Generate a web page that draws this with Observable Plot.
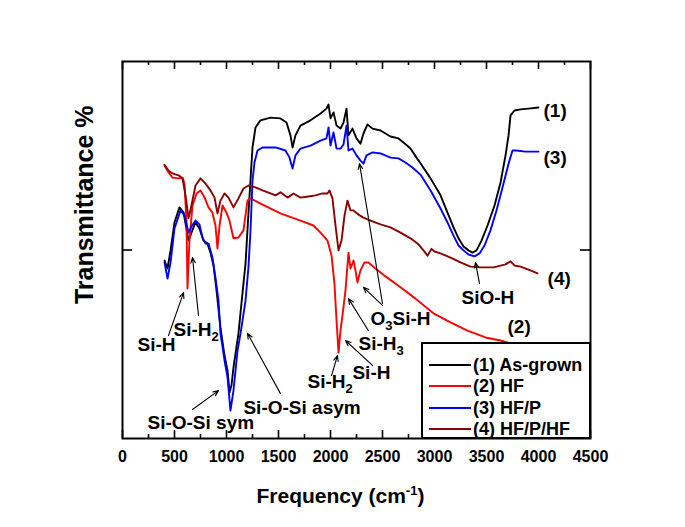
<!DOCTYPE html>
<html>
<head>
<meta charset="utf-8">
<script src="https://cdn.jsdelivr.net/npm/d3@7"></script>
<script src="https://cdn.jsdelivr.net/npm/@observablehq/plot@0.6"></script>
<style>
  html, body { margin: 0; padding: 0; background: white; overflow: hidden; }
  #wrap { position: relative; width: 685px; height: 527px; font-family: 'Liberation Sans', Arial, sans-serif; }
  #legend { position: absolute; left: 421px; top: 342px; width: 170px; height: 97px; box-sizing: border-box;
            border: 2px solid black; background: white; }
  .row { position: absolute; left: 0; height: 20px; }
  .sw { position: absolute; left: 6px; width: 42px; top: 9px; border-top: 2px solid; }
  .lb { position: absolute; left: 50px; top: 0; font-size: 18px; font-weight: bold; line-height: 20px; white-space: nowrap; }
</style>
</head>
<body>
<div id="wrap"></div>
<script>
// ---- data: [frequency (cm^-1), transmittance (arb. %)] ----
const asGrown = [[404,47.2],[433,45.1],[462,49.9],[500,57.3],[548,61.3],[587,60.0],[635,52.5],[663,54.6],[702,57.3],[740,55.7],[779,52.5],[817,51.7],[846,49.3],[875,45.9],[904,39.3],[942,29.4],[981,22.0],[1010,18.0],[1029,12.2],[1048,14.1],[1067,18.8],[1115,27.9],[1163,41.1],[1183,46.4],[1211,59.7],[1250,77.2],[1279,82.5],[1327,84.4],[1423,85.1],[1519,84.9],[1577,83.8],[1615,80.4],[1635,77.2],[1663,80.4],[1711,83.0],[1808,84.4],[1904,86.2],[1961,87.5],[1981,88.6],[2000,84.9],[2029,86.5],[2058,83.0],[2096,82.2],[2125,83.8],[2154,87.5],[2173,80.4],[2211,82.2],[2250,79.6],[2288,78.2],[2317,80.9],[2356,83.3],[2404,82.2],[2481,81.7],[2577,80.1],[2654,79.6],[2702,78.5],[2769,76.9],[2827,74.5],[2865,73.0],[2962,69.0],[3058,64.5],[3125,59.9],[3183,56.0],[3231,53.1],[3279,50.9],[3327,49.9],[3365,49.3],[3404,49.9],[3452,52.5],[3510,56.5],[3577,61.8],[3635,67.9],[3683,75.1],[3712,80.4],[3731,85.7],[3769,87.0],[3827,87.3],[3904,87.5],[4000,87.8]];
const hf = [[404,72.4],[442,70.6],[481,69.2],[538,69.0],[577,69.2],[596,67.6],[615,57.8],[625,39.8],[644,52.5],[673,61.8],[712,65.0],[750,65.8],[788,64.0],[827,61.3],[865,59.9],[894,56.5],[913,50.4],[933,56.5],[962,61.8],[1000,59.9],[1029,57.8],[1067,53.1],[1115,53.3],[1163,55.2],[1202,63.1],[1231,63.7],[1327,62.3],[1519,59.7],[1711,57.8],[1836,56.5],[1904,54.6],[1971,52.5],[2010,48.5],[2038,41.1],[2058,31.3],[2077,22.8],[2096,28.6],[2115,32.6],[2144,39.3],[2163,45.9],[2173,49.3],[2192,45.1],[2221,47.2],[2240,44.6],[2259,41.4],[2288,44.6],[2327,46.7],[2365,46.7],[2433,45.1],[2529,43.0],[2673,40.1],[2817,37.1],[2990,33.2],[3154,30.8],[3317,28.6],[3490,26.8],[3635,26.0],[3731,25.2],[3827,24.1],[3923,22.8],[4000,21.8]];
const hfp = [[404,46.7],[433,42.4],[462,46.7],[500,55.7],[558,60.5],[596,59.2],[635,54.6],[663,56.2],[702,57.8],[740,56.8],[769,53.3],[798,51.7],[827,51.7],[865,48.0],[894,42.7],[923,36.6],[942,27.9],[981,20.7],[1010,16.2],[1038,7.4],[1067,12.7],[1106,23.3],[1135,27.9],[1183,36.6],[1211,45.4],[1231,55.2],[1250,68.4],[1269,73.2],[1298,76.4],[1346,77.2],[1471,77.2],[1567,76.4],[1606,74.5],[1635,71.6],[1663,75.1],[1711,76.9],[1808,77.7],[1904,79.0],[1961,79.6],[1981,82.5],[2000,77.7],[2029,81.2],[2058,76.9],[2096,76.9],[2125,78.0],[2154,83.0],[2173,76.4],[2211,76.9],[2250,75.1],[2288,73.7],[2317,72.9],[2346,75.1],[2404,75.9],[2481,75.6],[2577,74.5],[2654,74.3],[2721,73.2],[2788,71.9],[2865,70.0],[2962,65.8],[3058,61.0],[3125,57.3],[3183,53.8],[3231,51.2],[3279,49.9],[3327,48.8],[3385,48.3],[3433,49.1],[3481,51.2],[3538,55.2],[3596,60.5],[3663,67.6],[3712,72.9],[3750,76.4],[3788,76.4],[3875,76.1],[4000,76.1]];
const hfphf = [[404,72.6],[442,71.1],[481,70.3],[538,69.8],[577,69.0],[606,64.5],[635,58.4],[663,61.8],[702,67.1],[750,69.0],[798,67.6],[846,65.8],[885,63.9],[913,59.7],[942,63.1],[981,65.0],[1019,63.9],[1067,61.3],[1115,63.7],[1163,66.3],[1211,67.1],[1279,66.6],[1346,65.8],[1423,65.0],[1471,64.5],[1519,65.3],[1587,63.9],[1644,65.0],[1711,63.9],[1788,64.2],[1856,64.5],[1923,65.0],[1971,65.0],[1990,65.8],[2019,63.7],[2048,56.5],[2077,49.9],[2106,52.5],[2135,59.2],[2163,63.1],[2192,60.5],[2221,60.5],[2269,59.4],[2317,58.6],[2385,57.8],[2481,56.8],[2577,56.0],[2673,54.6],[2769,53.1],[2846,51.5],[2894,49.9],[2933,48.5],[2971,50.3],[3000,49.6],[3058,49.1],[3154,48.0],[3250,46.7],[3346,45.6],[3442,45.4],[3567,45.4],[3683,46.2],[3731,47.0],[3769,45.9],[3827,45.6],[3923,44.6],[3990,43.8]];

const seriesNames = ["(1) As-grown", "(2) HF", "(3) HF/P", "(4) HF/P/HF"];
const seriesData = [asGrown, hf, hfp, hfphf];
const seriesColors = ["#000000", "#ff0000", "#0000ff", "#8b0000"];

const xTickValues = [0, 250, 500, 750, 1000, 1250, 1500, 1750, 2000, 2250, 2500, 2750, 3000, 3250, 3500, 3750, 4000, 4250, 4500];
const xTickLabels = [0, 500, 1000, 1500, 2000, 2500, 3000, 3500, 4000, 4500];
const yTickValues = [50];

// annotations: label text, frequency, transmittance (anchor of the text's left baseline)
const annLabels = ["Si-H", "Si-H_2", "Si-O-Si sym", "Si-O-Si asym", "Si-H_2", "Si-H", "Si-H_3", "O_3Si-H", "SiO-H", "(1)", "(3)", "(4)", "(2)"];
const annFreq   = [144, 490, 240, 1163, 1779, 2211, 2269, 2385, 3260, 4048, 4048, 4087, 3702];
const annTrans  = [23.3, 27.3, 2.4, 6.4, 13.3, 15.9, 23.6, 30.0, 35.8, 85.4, 72.7, 40.8, 28.1];

// arrows: from (f1,t1) to (f2,t2)
const arrF1 = [442, 731, 673, 1519, 2010, 2404, 2365, 2500, 2500, 3433];
const arrT1 = [27.3, 32.6, 7.7, 11.9, 16.7, 19.4, 28.6, 35.3, 35.8, 41.1];
const arrF2 = [587, 673, 923, 1202, 2067, 2144, 2173, 2317, 2279, 3394];
const arrT2 = [38.7, 48.0, 12.7, 27.9, 22.0, 26.0, 37.1, 40.1, 72.9, 46.7];

// ---- build tables ----
const rows = seriesNames.flatMap((name, i) => seriesData[i].map(([f, t]) => ({f, t, s: name})));
const labels = annLabels.map((label, i) => ({label, f: annFreq[i], t: annTrans[i]}));
const arrows = arrF1.map((_, i) => ({x1: arrF1[i], y1: arrT1[i], x2: arrF2[i], y2: arrT2[i]}));

const W = 685, H = 527, mL = 122, mR = 95, mT = 61, mB = 89;
const xMax = 4500, yMax = 100;
const uy = yMax / (H - mT - mB);   // y units per pixel
const ux = xMax / (W - mL - mR);   // x units per pixel
const tickLen = d => (d % 500 === 0 ? 8 : 4) * uy;

const font = "'Liberation Sans', Arial, sans-serif";

const svg = Plot.plot({
  width: W, height: H,
  marginLeft: mL, marginRight: mR, marginTop: mT, marginBottom: mB,
  x: {domain: [0, xMax], axis: null},
  y: {domain: [0, yMax], axis: null},
  color: {domain: seriesNames, range: seriesColors},
  style: {fontFamily: font, fontWeight: "bold", background: "white", color: "black"},
  marks: [
    Plot.line(rows, {x: "f", y: "t", z: "s", stroke: "s", strokeWidth: 1.9, curve: "linear"}),
    Plot.arrow(arrows, {x1: "x1", y1: "y1", x2: "x2", y2: "y2", stroke: "black", strokeWidth: 1.1, headLength: 8, headAngle: 45}),
    Plot.text(labels, {x: "f", y: "t", text: "label", textAnchor: "start", lineAnchor: "bottom", fontSize: 19, fill: "black", fontWeight: "bold"}),
    Plot.ruleX(xTickValues, {x: d => d, y1: 0, y2: d => tickLen(d), stroke: "black", strokeWidth: 1.6}),
    Plot.ruleX(xTickValues, {x: d => d, y1: d => yMax - tickLen(d), y2: yMax, stroke: "black", strokeWidth: 1.6}),
    Plot.ruleY(yTickValues, {y: d => d, x1: 0, x2: 10 * ux, stroke: "black", strokeWidth: 1.6}),
    Plot.ruleY(yTickValues, {y: d => d, x1: xMax - 10 * ux, x2: xMax, stroke: "black", strokeWidth: 1.6}),
    Plot.frame({stroke: "black", strokeWidth: 2}),
    Plot.axisX({ticks: xTickLabels, tickSize: 0, tickPadding: 12, fontSize: 16, tickFormat: "d", fontWeight: "bold"}),
    Plot.text(["Frequency (cm^-1)"], {frameAnchor: "bottom", x: 1288, dy: 64, textAnchor: "start", lineAnchor: "bottom", fontSize: 21, fontWeight: "bold", fill: "black"}),
    Plot.text(["Transmittance %"], {frameAnchor: "left", y: 62, dx: -38, rotate: -90, textAnchor: "middle", lineAnchor: "middle", fontSize: 25, fontWeight: "bold", fill: "black"})
  ]
});

// subscripts / superscripts as real text (tspans)
d3.select(svg).selectAll("text").each(function () {
  const el = this;
  if (el.querySelector("tspan")) return;
  const s = el.textContent;
  const ns = "http://www.w3.org/2000/svg";
  const m = s.match(/^(.*?)([_^])([-0-9]+)(.*)$/);
  if (!m) return;
  const [, a, kind, b, c] = m;
  el.textContent = "";
  const t1 = document.createElementNS(ns, "tspan"); t1.textContent = a; el.appendChild(t1);
  const t2 = document.createElementNS(ns, "tspan"); t2.textContent = b;
  t2.setAttribute("font-size", kind === "_" ? "13" : "13");
  t2.setAttribute("dy", kind === "_" ? "5" : "-8");
  el.appendChild(t2);
  if (c) {
    const t3 = document.createElementNS(ns, "tspan"); t3.textContent = c;
    t3.setAttribute("dy", kind === "_" ? "-5" : "8");
    el.appendChild(t3);
  }
});

const wrap = document.getElementById("wrap");
wrap.appendChild(svg);

// legend
const legend = document.createElement("div");
legend.id = "legend";
const rowTops = [11, 31.5, 53.5, 75];
seriesNames.forEach((name, i) => {
  const r = document.createElement("div");
  r.className = "row";
  r.style.top = rowTops[i] + "px";
  r.style.width = "166px";
  const sw = document.createElement("div");
  sw.className = "sw";
  sw.style.borderTopColor = seriesColors[i];
  const lb = document.createElement("div");
  lb.className = "lb";
  lb.textContent = name;
  r.appendChild(sw); r.appendChild(lb);
  legend.appendChild(r);
});
wrap.appendChild(legend);
</script>
</body>
</html>
